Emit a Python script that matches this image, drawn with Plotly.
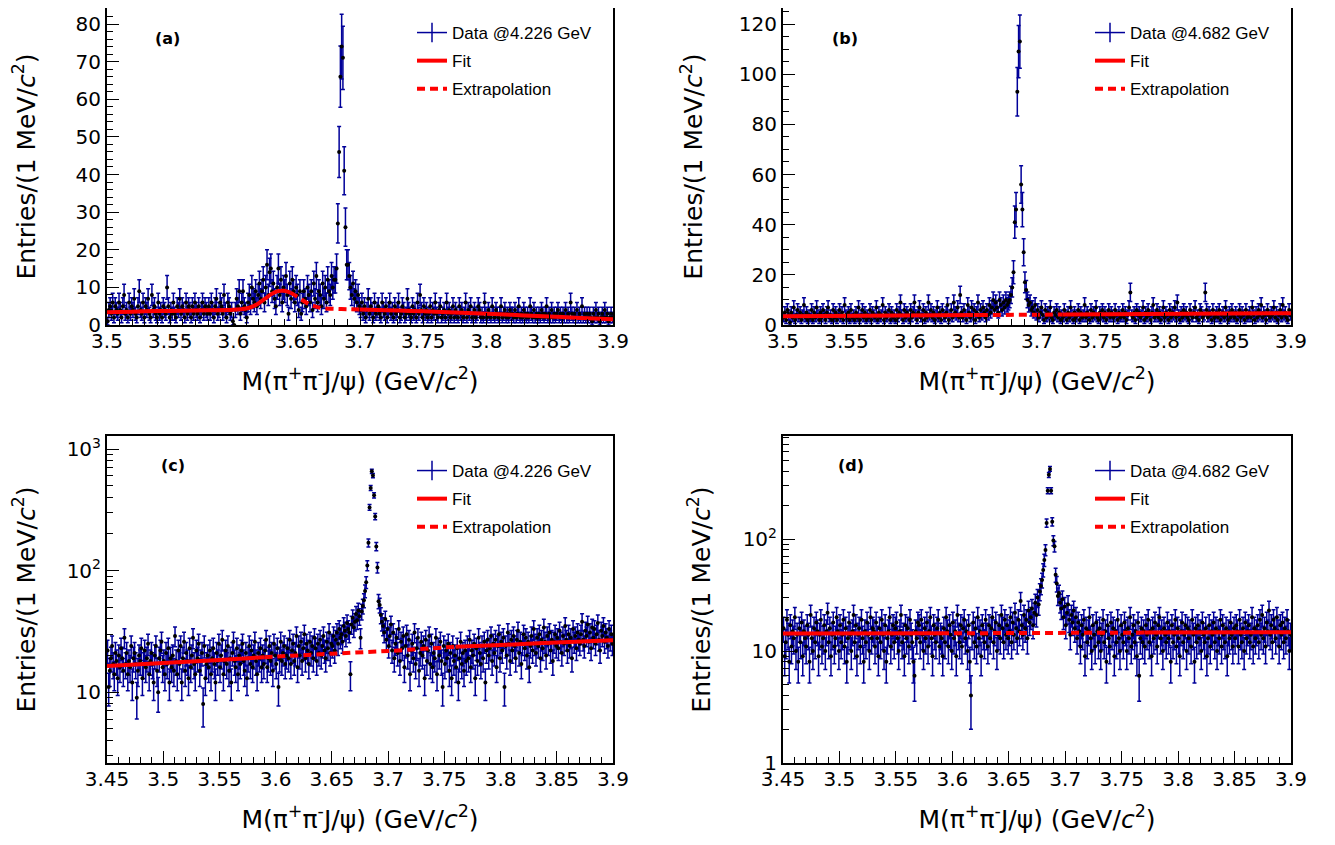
import math
import plotly.graph_objects as go

# ---------------- data (1 MeV bins) ----------------
start_ab = 3.5      # first bin edge, panels (a),(b)
start_cd = 3.45     # first bin edge, panels (c),(d)
bin_w = 0.001

counts_a = [
    1,4,5,3,6,2,5,4,3,6,4,2,5,8,3,4,2,6,3,5,
    4,7,3,2,5,9,4,3,6,2,5,4,7,3,2,8,4,5,3,2,
    6,3,4,2,5,4,3,10,5,2,4,3,6,3,2,5,4,7,3,5,
    4,2,6,3,5,4,2,5,3,6,4,3,5,2,4,6,3,5,4,3,
    5,3,6,4,2,5,7,3,4,6,5,3,8,4,2,6,5,3,4,1,
    0,4,7,5,9,3,6,9,5,4,2,6,8,5,10,7,6,9,5,8,
    11,7,9,12,6,10,16,8,14,15,9,11,7,5,10,15,8,12,6,10,
    9,13,8,3,11,7,12,9,6,10,8,4,9,3,6,9,7,5,10,8,
    6,9,4,11,7,13,6,9,8,5,11,7,10,6,12,9,8,13,10,12,
    12,15,27,46,66,74,71,41,26,16,16,13,10,8,11,7,9,6,8,5,
    4,6,3,5,2,4,7,3,5,4,2,6,3,4,5,3,2,6,4,3,
    5,2,4,6,3,4,2,5,3,4,6,2,3,5,4,2,3,7,4,3,
    2,5,3,4,2,6,3,8,4,2,5,3,4,2,3,5,2,4,3,6,
    3,2,4,5,2,3,4,2,6,3,4,2,3,5,2,4,3,2,5,3,
    4,2,3,6,2,4,3,5,2,3,4,2,3,5,4,2,3,2,6,3,
    2,4,3,2,5,3,2,4,3,2,3,5,2,3,4,2,3,2,4,3,
    3,2,4,2,3,5,2,3,2,4,3,2,3,2,5,3,2,4,2,3,
    2,3,2,4,3,2,3,5,2,3,2,4,2,3,2,3,4,2,3,2,
    3,2,4,2,3,2,6,3,2,3,2,4,2,3,2,5,2,3,2,3,
    2,3,2,1,3,2,4,2,3,1,2,3,2,4,2,3,1,2,3,2,
]

counts_b = [
    3,5,2,6,4,1,5,3,7,2,4,6,3,5,2,4,8,3,5,2,
    4,3,6,2,5,3,7,4,2,5,3,6,4,2,5,7,3,4,2,6,
    3,5,2,4,6,3,5,2,8,4,3,5,2,6,3,4,2,5,3,7,
    2,4,6,3,5,2,4,3,6,2,5,4,3,7,2,5,3,4,8,2,
    5,3,4,6,2,5,3,4,2,6,3,5,9,4,2,6,3,5,4,2,
    6,3,5,9,4,2,5,7,3,4,6,2,5,3,9,4,6,3,5,2,
    4,7,3,5,2,6,4,3,5,8,2,4,6,3,9,5,4,7,3,12,
    5,3,6,4,2,8,5,3,7,4,6,2,5,9,3,6,4,7,5,3,
    6,4,8,5,7,10,6,9,7,5,10,8,6,9,7,10,8,9,10,12,
    15,21,41,46,93,109,113,56,46,29,17,14,10,8,9,6,7,5,8,4,
    6,3,5,7,4,2,6,3,5,4,7,3,2,5,4,6,3,5,2,4,
    3,6,4,2,5,3,7,4,2,5,3,4,6,2,5,3,4,8,3,5,
    4,2,6,3,5,4,7,3,2,5,4,6,3,5,2,4,6,3,5,4,
    3,6,4,2,5,3,4,6,3,5,2,4,7,13,4,3,5,2,6,4,
    5,3,4,7,2,5,3,6,4,2,5,8,3,4,6,3,5,2,4,7,
    3,5,4,2,6,3,5,4,7,3,9,4,2,5,3,6,4,5,3,2,
    6,4,3,5,7,3,4,2,6,5,3,4,13,6,3,5,4,2,6,3,
    4,5,3,6,2,4,5,3,7,4,2,5,3,6,4,3,5,2,4,6,
    3,5,4,2,6,3,4,5,3,7,4,2,5,3,6,4,8,3,5,4,
    2,6,4,3,5,4,7,3,5,2,4,6,3,8,4,5,3,2,6,4,
]

counts_c = [
    22,11,15,19,24,17,14,21,18,13,20,16,23,19,15,28,17,21,14,18,
    16,24,12,19,21,17,9,15,20,18,23,13,17,22,16,19,25,14,18,21,
    17,12,20,24,15,10,19,22,26,16,18,14,21,17,23,12,19,16,20,15,
    29,18,14,22,17,24,12,19,26,15,21,18,13,23,16,20,28,17,14,22,
    19,25,15,18,21,8,24,13,17,20,16,22,14,19,23,17,12,21,18,25,
    16,20,27,14,18,22,17,24,15,19,12,21,26,18,16,23,14,20,17,22,
    25,18,15,21,13,19,24,17,22,16,20,26,18,14,21,19,23,16,20,17,
    22,27,16,19,24,18,21,15,25,20,17,23,11,19,26,18,21,24,17,20,
    23,19,27,17,22,25,18,21,29,16,24,20,26,18,23,30,19,25,22,17,
    26,21,24,19,28,23,18,25,21,27,20,24,29,22,19,26,23,31,21,25,
    24,29,22,27,31,25,33,28,30,26,35,32,29,37,33,31,14,36,41,34,38,44,39,47,42,
    28,46,51,57,68,80,110,169,331,478,655,604,416,278,158,106,56,52,43,
    38,35,31,40,27,33,24,29,36,22,31,19,25,28,21,33,
    18,26,23,29,16,24,30,20,27,14,22,25,19,31,17,23,28,15,21,26,
    20,24,13,27,18,22,29,17,25,16,21,19,28,14,23,20,26,18,11,24,
    17,22,19,25,15,21,13,24,18,20,16,23,12,19,26,17,21,15,22,18,
    24,19,27,16,22,20,25,13,23,18,28,21,17,24,19,26,12,22,27,20,
    23,29,18,25,21,27,16,24,30,19,26,22,28,11,24,20,31,25,18,27,
    22,29,24,19,27,32,21,26,17,25,30,23,28,20,26,16,24,29,22,33,
    25,21,28,24,30,19,27,23,34,26,20,29,25,31,22,27,18,26,30,24,
    28,23,32,26,21,29,25,35,27,22,30,24,28,19,33,26,29,23,31,27,
    25,30,38,27,24,32,29,36,26,31,23,34,28,33,25,30,37,27,22,32,29,35,26,31,28,24,33,27,30,25,
]

counts_d = [
    16,9,12,19,14,8,17,11,15,13,20,10,14,8,16,12,18,9,15,13,
    11,17,14,8,21,13,10,16,12,18,15,9,14,19,11,13,17,10,15,22,
    12,16,9,14,18,11,13,20,15,10,17,12,14,19,11,16,8,13,18,14,
    10,15,21,12,17,9,14,16,11,19,13,8,15,12,18,14,10,20,13,16,
    15,11,18,13,9,16,12,19,14,10,17,8,13,15,20,11,14,17,12,16,
    18,13,10,15,21,12,14,9,17,13,16,11,19,14,12,8,6,15,13,18,
    17,12,19,14,10,16,13,18,11,15,20,13,9,17,14,12,16,19,11,14,
    13,9,16,12,20,15,11,17,14,10,18,13,15,9,21,14,12,17,11,16,
    19,13,15,10,17,8,4,14,18,12,16,11,20,13,15,9,17,14,12,19,
    14,11,17,13,16,20,12,15,18,10,14,17,13,21,16,12,19,14,17,13,
    15,20,12,18,14,22,16,13,19,15,28,17,14,21,16,19,13,23,18,20,
    24,17,22,27,21,30,26,34,
    38,43,53,65,80,139,270,374,423,270,143,97,86,48,40,31,
    33,27,24,29,20,25,17,22,26,19,14,21,18,23,16,20,
    13,18,15,11,17,14,19,9,16,12,15,20,13,10,17,14,11,18,15,12,
    16,10,14,19,12,15,8,17,13,11,18,14,16,9,15,12,19,13,10,17,
    14,12,18,15,10,16,13,20,11,14,17,12,15,9,18,6,13,16,12,15,
    11,17,14,19,12,15,9,16,13,18,14,11,17,20,13,15,10,16,14,12,
    18,13,15,8,17,12,14,19,11,16,13,9,15,18,12,14,17,10,16,13,
    15,11,19,14,8,16,12,17,13,15,10,18,14,12,16,9,13,17,11,15,
    14,18,12,16,10,15,13,19,11,17,14,12,16,9,15,13,18,14,11,16,
    13,17,15,11,19,14,12,16,10,18,13,15,17,12,14,20,11,16,13,15,
    17,12,19,14,21,13,16,11,18,15,23,14,17,12,19,16,13,20,15,11,17,14,18,12,16,13,19,15,10,14,
]

# fit curves
fit_a_x = [3.50, 3.52, 3.54, 3.56, 3.58, 3.60, 3.61, 3.615, 3.62, 3.625, 3.63, 3.635,
           3.64, 3.645, 3.65, 3.655, 3.66, 3.665, 3.67, 3.68, 3.69, 3.70, 3.72, 3.74,
           3.76, 3.78, 3.80, 3.82, 3.84, 3.86, 3.88, 3.90]
fit_a_y = [3.4, 3.55, 3.7, 3.8, 3.9, 4.05, 4.4, 4.9, 5.8, 7.0, 8.2, 9.0,
           9.1, 8.6, 7.6, 6.5, 5.5, 4.9, 4.5, 4.3, 4.2, 4.1, 3.95, 3.75,
           3.5, 3.25, 3.0, 2.7, 2.4, 2.1, 1.8, 1.5]
fit_b_x = [3.50, 3.655, 3.72, 3.90]
fit_b_y = [3.5, 3.97, 4.16, 4.7]
fit_c_x = [3.45, 3.50, 3.55, 3.59, 3.60, 3.65, 3.70, 3.75, 3.76, 3.80, 3.85, 3.90]
fit_c_y = [16.4, 17.4, 18.4, 19.4, 19.6, 20.7, 21.8, 23.3, 23.6, 24.4, 25.6, 26.7]
fit_d_x = [3.45, 3.59, 3.77, 3.90]
fit_d_y = [14.3, 14.4, 14.6, 14.7]

# fit-excluded windows (drawn dashed as extrapolation)
window_a = (3.645, 3.70)
window_b = (3.655, 3.72)
window_c = (3.59, 3.76)
window_d = (3.59, 3.77)

labels = ["Data @4.226 GeV", "Data @4.682 GeV", "Data @4.226 GeV", "Data @4.682 GeV"]
panel_tags = ["(a)", "(b)", "(c)", "(d)"]

xt_ab = [3.5, 3.55, 3.6, 3.65, 3.7, 3.75, 3.8, 3.85, 3.9]
xt_ab_text = ["3.5", "3.55", "3.6", "3.65", "3.7", "3.75", "3.8", "3.85", "3.9"]
xt_cd = [3.45, 3.5, 3.55, 3.6, 3.65, 3.7, 3.75, 3.8, 3.85, 3.9]
xt_cd_text = ["3.45", "3.5", "3.55", "3.6", "3.65", "3.7", "3.75", "3.8", "3.85", "3.9"]
yt_a = [0, 10, 20, 30, 40, 50, 60, 70, 80]
yt_b = [0, 20, 40, 60, 80, 100, 120]
yt_c = [10, 100, 1000]
yt_c_text = ["10", "10<sup>2</sup>", "10<sup>3</sup>"]
yt_d = [1, 10, 100]
yt_d_text = ["1", "10", "10<sup>2</sup>"]

# ---------------- style ----------------
FONT = "DejaVu Sans, Liberation Sans, Arial, sans-serif"
LFONT = "Liberation Sans, Arial, Helvetica, sans-serif"
BLUE = "#000099"
RED = "#ff0000"
OFF = 8                      # page body margin of the written html
W, H = 1335 - OFF, 845 - OFF  # figure size so that page == picture


def px_x(p):
    return (p - OFF) / W


def px_y(p):
    return 1 - (p - OFF) / H


fig = go.Figure()


def add_panel(n, counts, start, fx, fy, window, label):
    xa = "x" if n == 1 else f"x{n}"
    ya = "y" if n == 1 else f"y{n}"
    leg = "legend" if n == 1 else f"legend{n}"
    xs = [start + bin_w * (i + 0.5) for i in range(len(counts))]
    errs = [math.sqrt(c) for c in counts]
    # legend-only entry for data
    fig.add_trace(go.Scatter(
        x=[None], y=[None], mode="lines+markers", name=label,
        line=dict(color=BLUE, width=1.5),
        marker=dict(symbol="line-ns-open", size=14, color=BLUE, line=dict(color=BLUE, width=1.5)),
        xaxis=xa, yaxis=ya, legend=leg, legendgroup=f"d{n}", legendrank=1))
    fig.add_trace(go.Scatter(
        x=xs, y=counts, mode="markers", showlegend=False,
        marker=dict(color="black", size=4),
        error_y=dict(type="data", array=errs, color=BLUE, thickness=1.5, width=2),
        error_x=dict(type="constant", value=bin_w / 2, color=BLUE, thickness=1.5, width=0),
        xaxis=xa, yaxis=ya))
    lo, hi = window
    sx, sy = [], []
    for x, y in zip(fx, fy):
        if x <= lo + 1e-9:
            sx.append(x); sy.append(y)
    sx.append(None); sy.append(None)
    for x, y in zip(fx, fy):
        if x >= hi - 1e-9:
            sx.append(x); sy.append(y)
    dx = [x for x in fx if lo - 1e-9 <= x <= hi + 1e-9]
    dy = [y for x, y in zip(fx, fy) if lo - 1e-9 <= x <= hi + 1e-9]
    fig.add_trace(go.Scatter(
        x=sx, y=sy, mode="lines", name="Fit", line=dict(color=RED, width=4, shape="spline"),
        connectgaps=False, xaxis=xa, yaxis=ya, legend=leg, legendgroup=f"f{n}", legendrank=2))
    fig.add_trace(go.Scatter(
        x=dx, y=dy, mode="lines", name="Extrapolation",
        line=dict(color=RED, width=4, dash="8px,5px", shape="spline"),
        xaxis=xa, yaxis=ya, legend=leg, legendgroup=f"e{n}", legendrank=3))


add_panel(1, counts_a, start_ab, fit_a_x, fit_a_y, window_a, labels[0])
add_panel(2, counts_b, start_ab, fit_b_x, fit_b_y, window_b, labels[1])
add_panel(3, counts_c, start_cd, fit_c_x, fit_c_y, window_c, labels[2])
add_panel(4, counts_d, start_cd, fit_d_x, fit_d_y, window_d, labels[3])

# pixel geometry of the four frames (picture pixels)
left_dom = [px_x(107), px_x(613)]
right_dom = [px_x(783), px_x(1291)]
top_dom = [px_y(325), 1.0]
bot_dom = [px_y(763), px_y(436)]

tickfont = dict(family=FONT, size=20, color="black")
titlefont = dict(family=FONT, size=25, color="black")
xtitle = "M(π<sup>+</sup>π<sup>-</sup>J/ψ) (GeV/<i>c</i><sup>2</sup>)"
ytitle = "Entries/(1 MeV/<i>c</i><sup>2</sup>)"


def xaxis(dom, anchor, rng, tv, tt, mirror):
    return dict(domain=dom, anchor=anchor, range=rng, tickmode="array", tickvals=tv, ticktext=tt,
                ticks="inside", ticklen=12, tickwidth=1, tickcolor="black", ticklabelstandoff=-3,
                minor=dict(ticks="inside", ticklen=6, tickwidth=1, tickcolor="black", dtick=0.01, tick0=3.45,
                           showgrid=False),
                showline=True, linecolor="black", linewidth=2, mirror=mirror, automargin=False,
                showgrid=False, zeroline=False, tickfont=tickfont,
                title=dict(text=xtitle, font=titlefont, standoff=20))


def yaxis_lin(dom, anchor, rng, tv, mdt, standoff):
    return dict(domain=dom, anchor=anchor, range=rng, tickmode="array", tickvals=tv,
                ticktext=[str(v) for v in tv],
                ticks="inside", ticklen=12, tickwidth=1, tickcolor="black",
                minor=dict(ticks="inside", ticklen=6, tickwidth=1, tickcolor="black", dtick=mdt, tick0=0,
                           showgrid=False),
                showline=True, linecolor="black", linewidth=2, mirror=True, automargin=False,
                showgrid=False, zeroline=False, tickfont=tickfont,
                title=dict(text=ytitle, font=titlefont, standoff=standoff))


def yaxis_log(dom, anchor, rng, tv, tt, minor_vals, standoff):
    return dict(domain=dom, anchor=anchor, type="log", range=rng, tickmode="array", tickvals=tv, ticktext=tt,
                ticks="inside", ticklen=12, tickwidth=1, tickcolor="black",
                minor=dict(ticks="inside", ticklen=6, tickwidth=1, tickcolor="black", tickmode="array",
                           tickvals=minor_vals, showgrid=False),
                showline=True, linecolor="black", linewidth=2, mirror=True, automargin=False,
                showgrid=False, zeroline=False, tickfont=tickfont,
                title=dict(text=ytitle, font=titlefont, standoff=standoff))


minor_c = [m * 10 ** e for e in (0, 1, 2) for m in range(2, 10) if 2.6 < m * 10 ** e < 1280]
minor_d = [m * 10 ** e for e in (0, 1, 2) for m in range(2, 10) if m * 10 ** e < 830]

legfont = dict(family=LFONT, size=17, color="black")


def legend(xpx, ypx):
    return dict(x=px_x(xpx), y=px_y(ypx), xanchor="left", yanchor="top", bgcolor="rgba(0,0,0,0)",
                borderwidth=0, font=legfont, traceorder="grouped", tracegroupgap=3, itemwidth=30)


# linear y ranges: picture y=325 is 0; 80 at y=24 (a), 120 at y=24 (b); frame top is picture y=8
ytop_a = 80 * (325 - OFF) / (325 - 24)
ytop_b = 120 * (325 - OFF) / (325 - 24)

fig.update_layout(
    width=W, height=H, margin=dict(l=0, r=0, t=0, b=0, autoexpand=False),
    paper_bgcolor="white", plot_bgcolor="white", font=dict(family=FONT, color="black"),
    xaxis=xaxis(left_dom, "y", [3.5, 3.9], xt_ab, xt_ab_text, False),
    yaxis=yaxis_lin(top_dom, "x", [0, ytop_a], yt_a, 2, 41),
    xaxis2=xaxis(right_dom, "y2", [3.5, 3.9], xt_ab, xt_ab_text, False),
    yaxis2=yaxis_lin(top_dom, "x2", [0, ytop_b], yt_b, 5, 29),
    xaxis3=xaxis(left_dom, "y3", [3.45, 3.9], xt_cd, xt_cd_text, True),
    yaxis3=yaxis_log(bot_dom, "x3", [0.417, 3.107], yt_c, yt_c_text, minor_c, 30),
    xaxis4=xaxis(right_dom, "y4", [3.45, 3.9], xt_cd, xt_cd_text, True),
    yaxis4=yaxis_log(bot_dom, "x4", [0.0, 2.92], yt_d, yt_d_text, minor_d, 25),
    legend=legend(412, 15),
    legend2=legend(1090, 15),
    legend3=legend(412, 453),
    legend4=legend(1090, 453),
    showlegend=True,
)

tag_pos = [(167, 38), (845, 38), (173, 465), (851, 465)]
for tag, (px, py) in zip(panel_tags, tag_pos):
    fig.add_annotation(text=f"<b>{tag}</b>", x=px_x(px), y=px_y(py), xref="paper", yref="paper",
                       showarrow=False, font=dict(family=FONT, size=16, color="black"),
                       xanchor="center", yanchor="middle")

fig.write_html("out.html")
